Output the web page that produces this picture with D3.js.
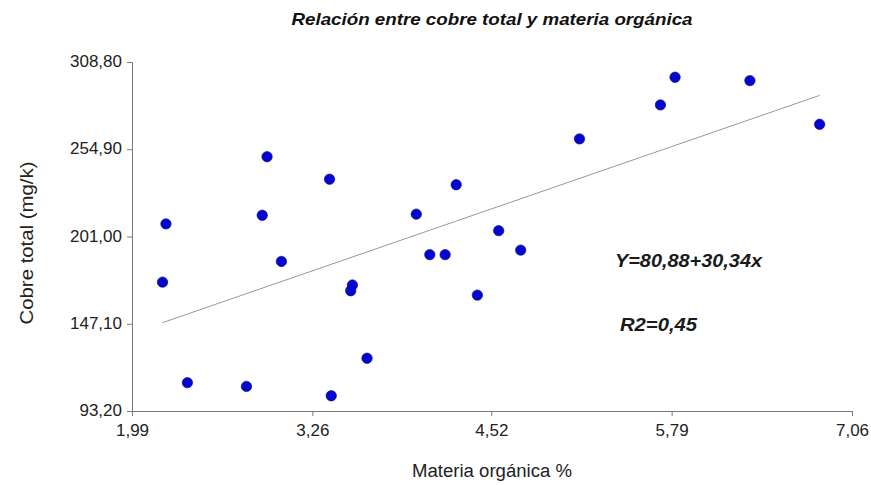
<!DOCTYPE html>
<html><head><meta charset="utf-8">
<script src="https://cdn.jsdelivr.net/npm/d3@7"></script>
<style>body{margin:0;background:#fff}text{font-family:"Liberation Sans",Arial,sans-serif}</style>
</head><body><svg id="c" width="871" height="485"></svg>
<script>
const materiaOrganica = [2.229,2.205,2.38,2.796,2.907,2.941,3.042,3.393,3.381,3.542,3.530,3.645,3.992,4.087,4.195,4.273,4.422,4.572,4.727,5.141,5.711,5.814,6.341,6.832];
const cobreTotal = [208.8,172.8,110.7,108.4,214.1,250.3,185.6,102.6,236.4,171.0,167.5,125.8,214.8,189.8,189.8,233.0,164.8,204.6,192.6,261.3,282.3,299.4,297.3,270.3];
const xTicks = [1.99,3.26,4.52,5.79,7.06];
const yTicks = [93.20,147.10,201.00,254.90,308.80];
const intercept = 80.88, slope = 30.34;
const title = "Relación entre cobre total y materia orgánica";
const fmt = d => d.toFixed(2).replace(".", ",");

const svg = d3.select("#c");
const x = d3.scaleLinear().domain([1.99,7.06]).range([132,852]);
const y = d3.scaleLinear().domain([93.2,308.8]).range([411,62]);

const gx = svg.append("g").attr("transform","translate(0,411)")
  .call(d3.axisBottom(x).tickValues(xTicks).tickFormat(fmt).tickSizeOuter(0).tickSize(5));
const gy = svg.append("g").attr("transform","translate(132,0)")
  .call(d3.axisLeft(y).tickValues(yTicks).tickFormat(fmt).tickSizeOuter(0).tickSize(5));
[gx,gy].forEach(g=>{
  g.selectAll("path,line").attr("stroke","#7a7a7a");
  g.selectAll("text").attr("fill","#222").style("font-size","17px");
});
gx.selectAll("text").attr("y",13);
gy.selectAll("text").attr("x",-10).attr("dy","0.27em");

const xs = d3.extent(materiaOrganica);
svg.append("line")
  .attr("x1",x(xs[0])).attr("y1",y(intercept+slope*xs[0]))
  .attr("x2",x(xs[1])).attr("y2",y(intercept+slope*xs[1]))
  .attr("stroke","#999").attr("stroke-width",1);

svg.append("g").selectAll("circle").data(materiaOrganica).join("circle")
  .attr("cx",(d)=>x(d)).attr("cy",(d,i)=>y(cobreTotal[i])).attr("r",5.2)
  .attr("fill","#0505d0").attr("stroke","#00008c").attr("stroke-width",0.6);

svg.append("text").attr("x",492).attr("y",25).attr("text-anchor","middle")
  .attr("textLength",401).attr("lengthAdjust","spacingAndGlyphs")
  .style("font-size","17px").style("font-weight","bold").style("font-style","italic")
  .attr("fill","#111").text(title);

svg.append("text").attr("x",615).attr("y",267)
  .attr("textLength",147).attr("lengthAdjust","spacingAndGlyphs")
  .style("font-size","18px").style("font-weight","bold").style("font-style","italic")
  .attr("fill","#1a1a1a").text("Y=80,88+30,34x");
svg.append("text").attr("x",620).attr("y",331)
  .attr("textLength",77).attr("lengthAdjust","spacingAndGlyphs")
  .style("font-size","18px").style("font-weight","bold").style("font-style","italic")
  .attr("fill","#1a1a1a").text("R2=0,45");

svg.append("text").attr("x",492).attr("y",477).attr("text-anchor","middle")
  .attr("textLength",160).attr("lengthAdjust","spacingAndGlyphs")
  .style("font-size","18px").attr("fill","#222").text("Materia orgánica %");
svg.append("text").attr("transform","translate(33,243) rotate(-90)").attr("text-anchor","middle")
  .attr("textLength",163).attr("lengthAdjust","spacingAndGlyphs")
  .style("font-size","18px").attr("fill","#222").text("Cobre total (mg/k)");
</script></body></html>
